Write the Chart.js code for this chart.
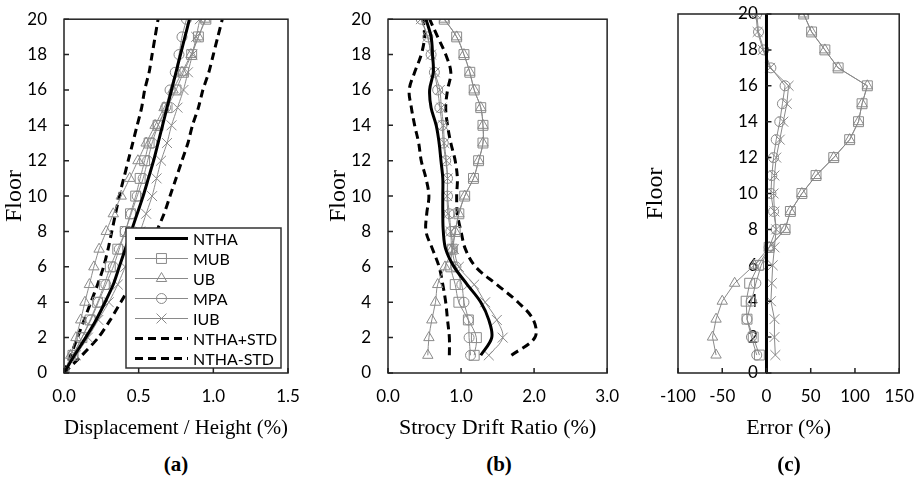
<!DOCTYPE html>
<html>
<head>
<meta charset="utf-8">
<script src="https://cdn.jsdelivr.net/npm/chart.js@4.4.1/dist/chart.umd.min.js"></script>
<style>
  body { margin: 0; background: #fff; }
  #wrap { position: relative; width: 919px; height: 480px; overflow: hidden; background: #fff; }
  canvas { position: absolute; top: 0; }
  .cap { position: absolute; top: 452px; line-height: 24px; font: bold 21px "Liberation Serif", serif; transform: translateX(-50%); color: #000; }
</style>
</head>
<body>
<div id="wrap">
  <canvas id="chartA" width="310" height="445" style="left:0px"></canvas>
  <canvas id="chartB" width="300" height="445" style="left:324px"></canvas>
  <canvas id="chartC" width="305" height="445" style="left:614px"></canvas>
  <div class="cap" style="left:176px">(a)</div>
  <div class="cap" style="left:499px">(b)</div>
  <div class="cap" style="left:789px">(c)</div>
</div>
<script>
// floors
var floorsA = [0, 1, 2, 3, 4, 5, 6, 7, 8, 9, 10, 11, 12, 13, 14, 15, 16, 17, 18, 19, 20];
var floorsB = [1, 2, 3, 4, 5, 6, 7, 8, 9, 10, 11, 12, 13, 14, 15, 16, 17, 18, 19, 20];

// tick labels
var floorTicks = [0, 2, 4, 6, 8, 10, 12, 14, 16, 18, 20];
var xTicksA = [0, 0.5, 1.0, 1.5];
var xTicksB = [0, 1.0, 2.0, 3.0];
var xTicksC = [-100, -50, 0, 50, 100, 150];

// (a) displacement / height (%)
var dispNTHA = [0, 0.07, 0.145, 0.215, 0.275, 0.33, 0.37, 0.41, 0.45, 0.49, 0.53, 0.565, 0.60, 0.63, 0.66, 0.69, 0.72, 0.75, 0.78, 0.81, 0.84];
var dispMUB = [0, 0.06, 0.12, 0.175, 0.225, 0.27, 0.31, 0.36, 0.41, 0.445, 0.48, 0.51, 0.54, 0.57, 0.63, 0.69, 0.75, 0.80, 0.855, 0.90, 0.95];
var dispUB = [0, 0.045, 0.08, 0.112, 0.14, 0.17, 0.20, 0.235, 0.283, 0.33, 0.383, 0.44, 0.495, 0.55, 0.61, 0.67, 0.73, 0.79, 0.85, 0.90, 0.945];
var dispMPA = [0, 0.06, 0.12, 0.18, 0.23, 0.28, 0.33, 0.37, 0.41, 0.45, 0.49, 0.53, 0.56, 0.59, 0.63, 0.68, 0.71, 0.745, 0.77, 0.79, 0.82];
var dispIUB = [0, 0.08, 0.16, 0.23, 0.30, 0.36, 0.41, 0.46, 0.51, 0.55, 0.59, 0.62, 0.65, 0.69, 0.72, 0.76, 0.80, 0.83, 0.86, 0.885, 0.91];
var dispPlus = [0, 0.12, 0.23, 0.31, 0.38, 0.45, 0.51, 0.57, 0.62, 0.67, 0.71, 0.75, 0.79, 0.83, 0.86, 0.90, 0.93, 0.97, 1.00, 1.03, 1.06];
var dispMinus = [0, 0.045, 0.09, 0.135, 0.18, 0.225, 0.265, 0.295, 0.32, 0.345, 0.37, 0.40, 0.43, 0.46, 0.49, 0.52, 0.54, 0.57, 0.59, 0.61, 0.63];

// (b) storey drift ratio (%)
var driftNTHA = [1.27, 1.42, 1.38, 1.27, 1.085, 0.905, 0.79, 0.757, 0.75, 0.75, 0.75, 0.725, 0.70, 0.66, 0.59, 0.57, 0.62, 0.61, 0.59, 0.52];
var driftMUB = [1.18, 1.21, 1.10, 0.97, 0.92, 0.86, 0.88, 0.92, 0.97, 1.05, 1.17, 1.24, 1.30, 1.30, 1.27, 1.18, 1.12, 1.04, 0.94, 0.77];
var driftUB = [0.545, 0.56, 0.60, 0.65, 0.68, 0.78, 0.88, 0.92, 0.97, 1.05, 1.17, 1.24, 1.30, 1.30, 1.27, 1.18, 1.12, 1.04, 0.94, 0.77];
var driftMPA = [1.13, 1.11, 1.10, 1.04, 1.01, 0.93, 0.874, 0.86, 0.84, 0.815, 0.815, 0.79, 0.757, 0.74, 0.71, 0.68, 0.635, 0.59, 0.545, 0.455];
var driftIUB = [1.38, 1.57, 1.49, 1.33, 1.18, 0.97, 0.905, 0.86, 0.82, 0.81, 0.815, 0.80, 0.77, 0.76, 0.73, 0.71, 0.64, 0.59, 0.54, 0.45];
var driftPlus = [1.69, 2.01, 1.99, 1.78, 1.49, 1.20, 1.06, 1.00, 0.95, 0.94, 0.95, 0.92, 0.86, 0.815, 0.79, 0.815, 0.86, 0.79, 0.68, 0.57];
var driftMinus = [0.84, 0.84, 0.815, 0.79, 0.75, 0.70, 0.61, 0.52, 0.53, 0.56, 0.52, 0.455, 0.42, 0.365, 0.32, 0.29, 0.365, 0.455, 0.50, 0.48];

// (c) error (%)
var errNTHA = [0, 0, 0, 0, 0, 0, 0, 0, 0, 0, 0, 0, 0, 0, 0, 0, 0, 0, 0, 0, 0];
var errMUB = [-8, -15, -22, -23, -19, -9, 3, 21, 27, 40, 56, 76, 94, 104, 108, 114, 81, 66, 51, 42];
var errUB = [-57, -61, -57, -50, -36, -14, 3, 21, 27, 40, 56, 76, 94, 104, 108, 114, 81, 66, 51, 42];
var errMPA = [-11, -17, -22, -17, -12, -6, 3, 11, 8, 5, 6, 8, 11, 15, 18, 21, 5, -3, -9, -11];
var errIUB = [10, 9, 9, 5, 6, 7, 9, 11, 9, 8, 9, 11, 15, 19, 23, 25, 4, -4, -10, -12];

var GRAY = "#8a8a8a";
Chart.defaults.font.family = "Lato, 'Open Sans', sans-serif";
Chart.defaults.font.size = 17;
Chart.defaults.color = "#000";

function pts(floors, vals) {
  return vals.map(function(v, i) { return { x: v, y: floors[i] }; });
}

function blackSet(label, floors, vals, dash, tension) {
  return {
    label: label, data: pts(floors, vals), showLine: true,
    borderColor: "#000", borderWidth: 3, borderDash: dash, pointRadius: 0,
    tension: tension, yAxisID: "y"
  };
}

function markerSet(label, floors, vals, style, r, tension) {
  return {
    label: label, data: pts(floors, vals), showLine: true,
    borderColor: GRAY, borderWidth: 1, tension: tension,
    pointStyle: style, pointRadius: r, pointBorderColor: GRAY,
    pointBackgroundColor: "rgba(0,0,0,0)", pointBorderWidth: 1, yAxisID: "y"
  };
}

function fixedTicks(list) {
  return function(scale) {
    scale.ticks = list.map(function(v) { return { value: v }; });
  };
}

function drawMarker(ctx, style, r, x, y) {
  ctx.beginPath();
  if (style === "rect") {
    var s = r * Math.SQRT1_2;
    ctx.rect(x - s, y - s, 2 * s, 2 * s);
  } else if (style === "triangle") {
    var a = 0;
    ctx.moveTo(x + Math.sin(a) * r, y - Math.cos(a) * r);
    a += Math.PI * 2 / 3;
    ctx.lineTo(x + Math.sin(a) * r, y - Math.cos(a) * r);
    a += Math.PI * 2 / 3;
    ctx.lineTo(x + Math.sin(a) * r, y - Math.cos(a) * r);
    ctx.closePath();
  } else if (style === "circle") {
    ctx.arc(x, y, r, 0, Math.PI * 2);
  } else if (style === "crossRot") {
    var d = r * Math.SQRT1_2;
    ctx.moveTo(x - d, y - d); ctx.lineTo(x + d, y + d);
    ctx.moveTo(x - d, y + d); ctx.lineTo(x + d, y - d);
  }
  ctx.stroke();
}

// box round the plot and inward tick marks
var framePlugin = {
  id: "frame",
  afterDraw: function(chart, args, opts) {
    var ctx = chart.ctx, a = chart.chartArea;
    var xs = chart.scales.x, ys = chart.scales.y;
    var axisX = opts.yAt !== undefined ? xs.getPixelForValue(opts.yAt) : a.left;
    ctx.save();
    ctx.strokeStyle = "#222";
    ctx.lineWidth = 1.5;
    ctx.strokeRect(a.left, a.top, a.right - a.left, a.bottom - a.top);
    ctx.beginPath();
    floorTicks.forEach(function(v) {
      var y = ys.getPixelForValue(v);
      ctx.moveTo(axisX, y); ctx.lineTo(axisX + 5, y);
    });
    xs.ticks.forEach(function(t) {
      var x = xs.getPixelForValue(t.value);
      ctx.moveTo(x, a.bottom); ctx.lineTo(x, a.bottom - 5);
    });
    ctx.stroke();
    ctx.restore();
  }
};

// Excel style legend inside panel (a)
var boxLegend = {
  id: "boxLegend",
  afterDatasetsDraw: function(chart) {
    var ctx = chart.ctx, a = chart.chartArea;
    var w = 155, h = 140;
    var left = a.right - 7 - w, top = a.bottom - 5 - h;
    ctx.save();
    ctx.fillStyle = "#fff";
    ctx.fillRect(left, top, w, h);
    ctx.strokeStyle = "#333";
    ctx.lineWidth = 1.5;
    ctx.strokeRect(left, top, w, h);
    ctx.font = "16px Lato, 'Open Sans', sans-serif";
    ctx.textBaseline = "middle";
    chart.data.datasets.forEach(function(ds, i) {
      var y = top + 10.5 + i * 20;
      ctx.strokeStyle = ds.borderColor;
      ctx.lineWidth = ds.borderWidth;
      ctx.setLineDash(ds.borderDash || []);
      ctx.beginPath();
      ctx.moveTo(left + 9, y); ctx.lineTo(left + 62, y);
      ctx.stroke();
      ctx.setLineDash([]);
      if (ds.pointRadius > 0) {
        ctx.lineWidth = 1;
        drawMarker(ctx, ds.pointStyle, ds.pointRadius, left + 35.5, y);
      }
      ctx.fillStyle = "#000";
      ctx.fillText(ds.label, left + 67, y + 1);
    });
    ctx.restore();
  }
};

function yFloorAxis(showTitle) {
  return {
    type: "linear", min: 0, max: 20,
    afterBuildTicks: fixedTicks(floorTicks),
    grid: { display: false }, border: { display: false },
    ticks: { padding: 9 },
    title: {
      display: showTitle, text: "Floor", color: "#000",
      font: { family: "'Liberation Serif', serif", size: 24 },
      padding: { top: 0, bottom: 0 }
    },
    afterFit: function(s) { s.width = 64; }
  };
}

function xAxis(min, max, list, digits, text) {
  return {
    type: "linear", min: min, max: max,
    afterBuildTicks: fixedTicks(list),
    grid: { display: false }, border: { display: false },
    ticks: { padding: 5, callback: function(v) { return Number(v).toFixed(digits); } },
    title: {
      display: true, text: text, color: "#000",
      font: { family: "'Liberation Serif', serif", size: 22 },
      padding: { top: 0, bottom: 4 }
    },
    afterFit: function(s) { s.height = 72; }
  };
}

function baseOptions(padRight, scales, frameOpts) {
  return {
    responsive: false, animation: false, events: [],
    layout: { padding: { left: 0, top: 14, right: padRight, bottom: 0 } },
    plugins: { legend: { display: false }, tooltip: { enabled: false }, frame: frameOpts },
    scales: scales
  };
}

new Chart(document.getElementById("chartA"), {
  type: "scatter",
  data: {
    datasets: [
      blackSet("NTHA", floorsA, dispNTHA, [], 0.2),
      markerSet("MUB", floorsA, dispMUB, "rect", 7, 0.2),
      markerSet("UB", floorsA, dispUB, "triangle", 6, 0.2),
      markerSet("MPA", floorsA, dispMPA, "circle", 5, 0.2),
      markerSet("IUB", floorsA, dispIUB, "crossRot", 7, 0.2),
      blackSet("NTHA+STD", floorsA, dispPlus, [8, 5], 0.2),
      blackSet("NTHA-STD", floorsA, dispMinus, [8, 5], 0.2)
    ]
  },
  options: baseOptions(22, {
    x: xAxis(0, 1.5, xTicksA, 1, "Displacement / Height (%)"),
    y: yFloorAxis(true)
  }, {}),
  plugins: [framePlugin, boxLegend]
});

new Chart(document.getElementById("chartB"), {
  type: "scatter",
  data: {
    datasets: [
      blackSet("NTHA", floorsB, driftNTHA, [], 0.35),
      markerSet("MUB", floorsB, driftMUB, "rect", 7, 0.35),
      markerSet("UB", floorsB, driftUB, "triangle", 6, 0.35),
      markerSet("MPA", floorsB, driftMPA, "circle", 5, 0.35),
      markerSet("IUB", floorsB, driftIUB, "crossRot", 7, 0.35),
      blackSet("NTHA+STD", floorsB, driftPlus, [8, 5], 0.35),
      blackSet("NTHA-STD", floorsB, driftMinus, [8, 5], 0.35)
    ]
  },
  options: baseOptions(14, {
    x: xAxis(0, 3, xTicksB, 1, "Strocy Drift Ratio (%)"),
    y: yFloorAxis(true)
  }, {}),
  plugins: [framePlugin]
});

// (c): the floor axis crosses at error = 0, labels sit just left of it
var yC = yFloorAxis(false);
yC.position = { x: 0 };
yC.border = { display: true, color: "#000", width: 1 };
yC.ticks = { callback: function(v) { return v + "  "; } };
delete yC.afterFit;

new Chart(document.getElementById("chartC"), {
  type: "scatter",
  data: {
    datasets: [
      blackSet("NTHA", floorsA, errNTHA, [], 0),
      markerSet("MUB", floorsB, errMUB, "rect", 7, 0),
      markerSet("UB", floorsB, errUB, "triangle", 6, 0),
      markerSet("MPA", floorsB, errMPA, "circle", 5, 0),
      markerSet("IUB", floorsB, errIUB, "crossRot", 7, 0)
    ]
  },
  options: baseOptions(19, {
    x: xAxis(-100, 150, xTicksC, 0, "Error (%)"),
    y: yC,
    yt: {
      axis: "y", type: "linear", position: "left", min: 0, max: 20,
      grid: { display: false }, border: { display: false },
      ticks: { display: false },
      title: {
        display: true, text: "Floor", color: "#000",
        font: { family: "'Liberation Serif', serif", size: 24 },
        padding: { top: 27, bottom: 0 }
      },
      afterFit: function(s) { s.width = 64; }
    }
  }, { yAt: 0 }),
  plugins: [framePlugin]
});
</script>
</body>
</html>
